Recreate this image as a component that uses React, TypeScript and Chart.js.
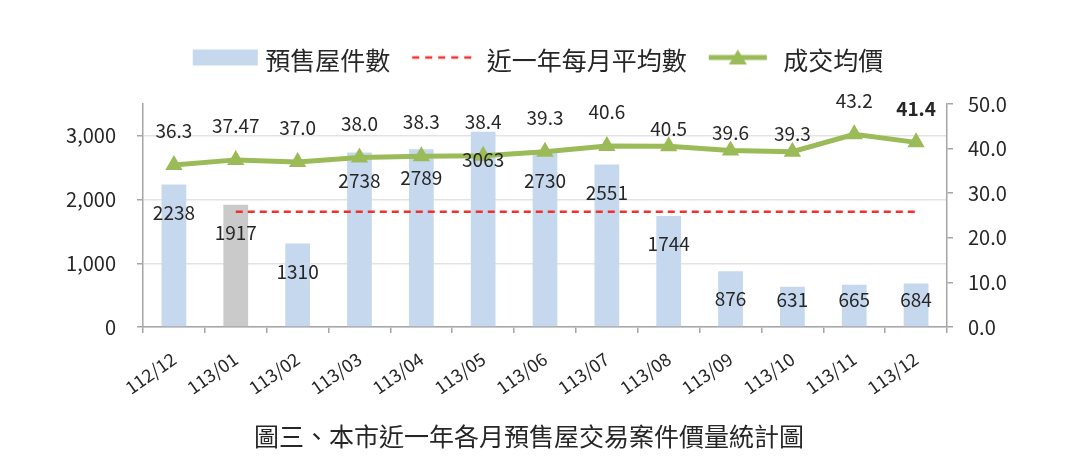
import React, { useEffect, useRef } from "react";
import { Chart, registerables } from "chart.js";

Chart.register(...registerables);

// ---- data ----
const months = [
  "112/12", "113/01", "113/02", "113/03", "113/04", "113/05", "113/06",
  "113/07", "113/08", "113/09", "113/10", "113/11", "113/12",
];
const presaleCounts = [2238, 1917, 1310, 2738, 2789, 3063, 2730, 2551, 1744, 876, 631, 665, 684];
const monthlyAverage = [null, 1808, 1808, 1808, 1808, 1808, 1808, 1808, 1808, 1808, 1808, 1808, 1808];
const avgPrice = [36.3, 37.47, 37.0, 38.0, 38.3, 38.4, 39.3, 40.6, 40.5, 39.6, 39.3, 43.2, 41.4];
const seriesNames = ["預售屋件數", "近一年每月平均數", "成交均價"];
const chartTitle = "圖三、本市近一年各月預售屋交易案件價量統計圖";
const leftTicks = [0, 1000, 2000, 3000];
const leftAxisMax = 3500;
const rightTicks = [0, 10, 20, 30, 40, 50];

// ---- styles ----
const FONT = "'Noto Sans CJK TC', 'Noto Sans', sans-serif";
const BLUE = "#C5D8EE";
const GREY = "#CACACA";
const GREEN = "#9BBB59";
const RED = "#F2302B";
const AXIS = "#A6A6A6";
const GRID = "#E3E3E3";
const TEXT = "#262626";
const highlightIndex = 1; // grey bar
const lineLabelLift = [34, 34, 34, 34, 34, 34, 34, 34, 18, 18, 18, 34, 34];

function fmtPrice(v: number) {
  return Math.abs(Math.round(v * 10) - v * 10) < 1e-9 ? v.toFixed(1) : String(v);
}

// legend icon canvas: slot width SLOT, content begins at `start` px from slot's left edge,
// and is raised by ICON_RAISE px relative to the text centre
const SLOT = 60;
const ICON_W = 160;
const ICON_H = 30;
const ICON_RAISE = 3;
function makeIcon(h: number, start: number, draw: (c: CanvasRenderingContext2D, x0: number, y0: number) => void) {
  const cv = document.createElement("canvas");
  cv.width = ICON_W;
  cv.height = ICON_H;
  const c = cv.getContext("2d")!;
  const x0 = ICON_W / 2 - SLOT / 2 + start;
  const y0 = ICON_H / 2 - ICON_RAISE - h / 2;
  draw(c, x0, y0);
  return cv;
}

const labelPlugin = {
  id: "valueLabels",
  afterDatasetsDraw(chart: any) {
    const ctx = chart.ctx;
    ctx.save();
    ctx.fillStyle = TEXT;
    ctx.textAlign = "center";
    ctx.textBaseline = "middle";
    const barMeta = chart.getDatasetMeta(0);
    barMeta.data.forEach((el: any, i: number) => {
      const y = Math.min(el.y + 28, el.base - 26);
      ctx.font = `19px ${FONT}`;
      ctx.fillText(String(presaleCounts[i]), el.x, y);
    });
    const lineMeta = chart.getDatasetMeta(2);
    lineMeta.data.forEach((el: any, i: number) => {
      ctx.font = `${i === avgPrice.length - 1 ? "bold " : ""}19px ${FONT}`;
      ctx.fillText(fmtPrice(avgPrice[i]), el.x, el.y - lineLabelLift[i]);
    });
    ctx.restore();
  },
};

export default function App() {
  const ref = useRef<HTMLCanvasElement>(null);

  useEffect(() => {
    const canvas = ref.current!;
    const blueIcon = makeIcon(16, 0, (c, x0, y0) => {
      c.fillStyle = BLUE;
      c.fillRect(x0, y0, 65, 16);
    });
    const redIcon = makeIcon(4, -2, (c, x0, y0) => {
      c.strokeStyle = RED;
      c.lineWidth = 2.5;
      c.setLineDash([7, 6]);
      c.beginPath();
      c.moveTo(x0, y0 + 2);
      c.lineTo(x0 + 61, y0 + 2);
      c.stroke();
    });
    const greenIcon = makeIcon(18, -2, (c, x0, y0) => {
      c.strokeStyle = GREEN;
      c.lineWidth = 5;
      c.beginPath();
      c.moveTo(x0, y0 + 9);
      c.lineTo(x0 + 58, y0 + 9);
      c.stroke();
      c.fillStyle = GREEN;
      c.beginPath();
      c.moveTo(x0 + 29, y0 + 1);
      c.lineTo(x0 + 38, y0 + 16);
      c.lineTo(x0 + 20, y0 + 16);
      c.closePath();
      c.fill();
    });
    const icons = [blueIcon, redIcon, greenIcon];

    const chart = new Chart(canvas, {
      type: "bar",
      data: {
        labels: months,
        datasets: [
          {
            type: "bar",
            label: seriesNames[0],
            data: presaleCounts,
            backgroundColor: presaleCounts.map((_, i) => (i === highlightIndex ? GREY : BLUE)),
            yAxisID: "y",
            barPercentage: 0.4,
            categoryPercentage: 1,
            order: 3,
          },
          {
            type: "line",
            label: seriesNames[1],
            data: monthlyAverage as any,
            borderColor: RED,
            borderWidth: 2.5,
            borderDash: [7, 5],
            pointRadius: 0,
            fill: false,
            yAxisID: "y",
            order: 2,
          },
          {
            type: "line",
            label: seriesNames[2],
            data: avgPrice,
            borderColor: GREEN,
            backgroundColor: GREEN,
            borderWidth: 5,
            pointStyle: "triangle",
            pointRadius: 10,
            pointBorderWidth: 0,
            pointBackgroundColor: GREEN,
            fill: false,
            yAxisID: "y1",
            order: 1,
          },
        ],
      } as any,
      options: {
        responsive: false,
        animation: false,
        layout: { padding: { top: 24, right: 4, bottom: 42, left: 0 } },
        font: { family: FONT },
        plugins: {
          tooltip: { enabled: false },
          legend: {
            display: true,
            position: "top",
            labels: {
              usePointStyle: true,
              pointStyleWidth: SLOT,
              padding: 24,
              color: TEXT,
              font: { size: 25, family: FONT },
              generateLabels: () =>
                seriesNames.map((name, i) => ({
                  text: name,
                  pointStyle: icons[i] as any,
                  fillStyle: "transparent",
                  strokeStyle: "transparent",
                  lineWidth: 0,
                  hidden: false,
                  datasetIndex: i,
                  fontColor: TEXT,
                })),
            },
          },
          subtitle: {
            display: true,
            text: "",
            weight: 500,
            position: "top",
            font: { size: 10, lineHeight: 1 },
            padding: { top: 0, bottom: 11 },
          } as any,
          title: { display: false },
        },
        scales: {
          x: {
            type: "category",
            offset: true,
            grid: {
              offset: true,
              drawOnChartArea: false,
              drawTicks: true,
              tickLength: 6,
              color: AXIS,
              lineWidth: 1.5,
            },
            border: { color: AXIS, width: 1.5 },
            ticks: {
              minRotation: 35,
              maxRotation: 35,
              color: TEXT,
              padding: 15,
              font: { size: 18, family: FONT },
              autoSkip: false,
            },
            afterFit: (s: any) => {
              s.height = 93;
            },
          },
          y: {
            type: "linear",
            position: "left",
            min: 0,
            max: leftAxisMax,
            grid: {
              color: GRID,
              lineWidth: 1.5,
              drawTicks: true,
              tickLength: 6,
              tickColor: AXIS,
            },
            border: { color: AXIS, width: 1.5 },
            ticks: {
              color: TEXT,
              padding: 21,
              font: { size: 20, family: FONT },
              callback: (v: any) => Number(v).toLocaleString("en-US"),
            },
            afterBuildTicks: (s: any) => {
              s.ticks = leftTicks.map((v) => ({ value: v }));
            },
            afterFit: (s: any) => {
              s.width = 143;
            },
          },
          y1: {
            type: "linear",
            position: "right",
            min: 0,
            max: rightTicks[rightTicks.length - 1],
            grid: {
              drawOnChartArea: false,
              drawTicks: true,
              tickLength: 6,
              color: AXIS,
              lineWidth: 1.5,
            },
            border: { color: AXIS, width: 1.5 },
            ticks: {
              color: TEXT,
              padding: 15,
              font: { size: 20, family: FONT },
              callback: (v: any) => Number(v).toFixed(1),
            },
            afterBuildTicks: (s: any) => {
              s.ticks = rightTicks.map((v) => ({ value: v }));
            },
            afterFit: (s: any) => {
              s.width = 129;
            },
          },
        },
      } as any,
      plugins: [labelPlugin],
    });
    return () => chart.destroy();
  }, []);

  return (
    <div style={{ position: "fixed", left: 0, top: 0, width: 1080, height: 462, background: "#fff" }}>
      <canvas ref={ref} width={1080} height={462} style={{ display: "block" }} />
      <div
        style={{
          position: "absolute",
          left: 0,
          top: 420,
          width: 1058,
          height: 30,
          lineHeight: "30px",
          textAlign: "center",
          fontFamily: FONT,
          fontSize: 25,
          color: TEXT,
          whiteSpace: "nowrap",
        }}
      >
        {chartTitle}
      </div>
    </div>
  );
}
